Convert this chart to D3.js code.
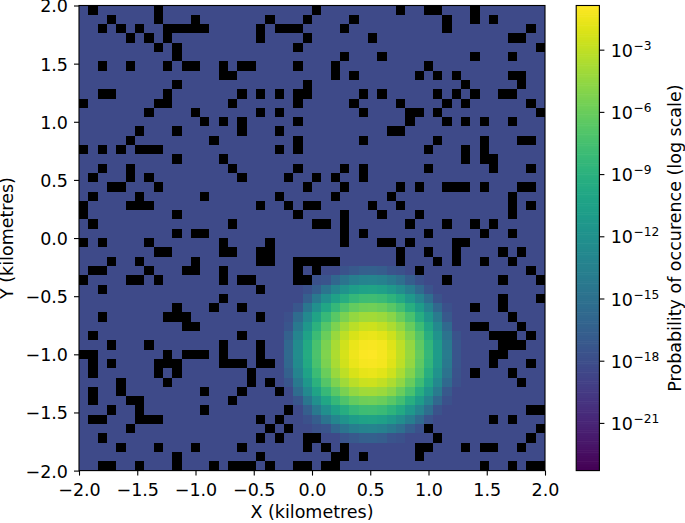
<!DOCTYPE html>
<html>
<head>
<meta charset="utf-8">
<script src="https://cdnjs.cloudflare.com/ajax/libs/d3/7.8.5/d3.min.js"></script>
<style>
html,body{margin:0;padding:0;background:#fff}
svg{display:block}
text{font-family:"DejaVu Sans",sans-serif;fill:#000}
</style>
</head>
<body>
<div id="chart"></div>
<script>
// Data
const xTicks = [-2, -1.5, -1, -0.5, 0, 0.5, 1, 1.5, 2];
const yTicks = [-2, -1.5, -1, -0.5, 0, 0.5, 1, 1.5, 2];
const colorTicks = [-3, -6, -9, -12, -15, -18, -21];
const colorDomain = [-23.3, -0.87];
const binCount = 50;
const backgroundLog = -18.25;
const xLabel = "X (kilometres)";
const yLabel = "Y (kilometres)";
const colorLabel = "Probability of occurence (log scale)";

// Empty bins (drawn black): column indices, one list per row, top row first
const emptyBins = [
 [1,8,25,34,37,38,42],
 [3,8,12,20,24,29,39,42,44],
 [2,4,6,9,10,11,12,13,19,21,22,23,28,39,48],
 [5,7,9,19,24,31,46,47],
 [8,10,23,49],
 [10,28,32,42,46],
 [2,5,9,11,12,15,17,18,23,27,37],
 [15,16,27,29,36,38,40,46,47],
 [10,24,41,47],
 [2,3,9,17,19,21,23,24,30,32,38,40,42,45,46],
 [0,8,9,16,23,29,34,39,41,48],
 [7,12,19,21,30,35,36,38,49],
 [13,15,17,23,35,39,41,43,46],
 [6,10,17,21,33,34],
 [5,14,23,30,38,43,47,48],
 [0,2,4,6,7,8,21,23,37,41,43],
 [10,15,41,43,44],
 [2,5,16,23,28,30,37,44,48],
 [1,5,7,17,22,25,27,30],
 [3,4,8,24,28,34,36,39,40,41,43,47,48],
 [1,6,13,21,27,33,46],
 [0,5,6,7,19,22,24,25,31,34,46,48],
 [0,10,23,28,32,36,46],
 [1,16,25,26,28,35,39,42,44],
 [10,12,13,28,30,37,43,46],
 [0,2,7,15,20,28,32,33,35,40,41],
 [8,9,15,16,19,20,34,37,40,45,47],
 [3,6,12,19,20,23,24,25,26,27,34,38,40,43,46],
 [1,2,7,11,12,15,23,25,36,48],
 [0,5,6,8,15,17,18,23,24,39,45,49],
 [2,19],
 [15,45,49],
 [10,14,17,42,45],
 [2,9,10,11,19,46],
 [11,12,42,43,47],
 [1,17,44,45,46,48],
 [3,7,15,19,45,46,47],
 [0,1,9,11,12,13,15,19,44,45],
 [1,3,8,9,10,15,16,17,19,20,44,48],
 [1,8,10,18,42,46],
 [4,9,18,20,47],
 [1,4,13,17,21],
 [1,5,6,16],
 [3,6,13,22,48,49],
 [1,2,6,7,8,19,21,44,46],
 [5,20,22,37,49],
 [2,19,21,24,25,38,48],
 [4,8,12,17,24,26,28,36,37,41,43,44,47],
 [10,19,27,28,30,36],
 [2,3,6,10,14,16,17,18,20,23,24,26,27,43,46,48,49]
];

// Bright patch: log10 probability for columns 22..40, rows 28..46 (null = background)
const patchFirstCol = 22;
const patchFirstRow = 28;
const n = null;
const patchLog = [
 [n,n,n,n,n,n,-17.6,-17.1,-16.6,-16.5,-16.8,-17.5,-17.7,n,n,n,n,n,n],
 [n,n,n,-17.7,-17.5,-15.9,-14.7,-13.8,-13.3,-13.2,-13.5,-14.2,-15.2,-16.7,-17.7,n,n,n,n],
 [n,n,-17.7,-16.7,-14.7,-13.0,-11.8,-10.9,-10.4,-10.3,-10.6,-11.3,-12.4,-13.8,-15.6,-17.5,n,n,n],
 [n,n,-16.6,-14.2,-12.2,-10.5,-9.3,-8.4,-7.9,-7.8,-8.1,-8.8,-9.8,-11.3,-13.1,-15.3,-17.6,n,n],
 [n,-17.3,-14.5,-12.1,-10.0,-8.4,-7.1,-6.3,-5.8,-5.7,-6.0,-6.7,-7.7,-9.2,-11.0,-13.2,-15.8,-17.7,n],
 [-17.8,-15.5,-12.7,-10.3,-8.3,-6.7,-5.4,-4.5,-4.1,-4.0,-4.2,-4.9,-6.0,-7.4,-9.3,-11.5,-14.1,-17.1,n],
 [-17.4,-14.2,-11.4,-9.0,-6.9,-5.3,-4.1,-3.2,-2.7,-2.6,-2.9,-3.6,-4.6,-6.1,-7.9,-10.1,-12.7,-15.7,n],
 [-16.4,-13.2,-10.4,-8.0,-6.0,-4.3,-3.1,-2.2,-1.7,-1.6,-1.9,-2.6,-3.7,-5.1,-6.9,-9.2,-11.8,-14.8,-17.6],
 [-15.8,-12.6,-9.8,-7.4,-5.4,-3.8,-2.5,-1.6,-1.2,-1.1,-1.3,-2.0,-3.1,-4.5,-6.4,-8.6,-11.2,-14.2,-17.4],
 [-15.6,-12.4,-9.6,-7.2,-5.2,-3.6,-2.3,-1.4,-1.0,-0.9,-1.2,-1.8,-2.9,-4.3,-6.2,-8.4,-11.0,-14.0,-17.4],
 [-15.8,-12.6,-9.8,-7.4,-5.4,-3.8,-2.5,-1.6,-1.2,-1.1,-1.3,-2.0,-3.1,-4.5,-6.4,-8.6,-11.2,-14.2,-17.4],
 [-16.4,-13.2,-10.4,-8.0,-6.0,-4.3,-3.1,-2.2,-1.7,-1.6,-1.9,-2.6,-3.7,-5.1,-6.9,-9.2,-11.8,-14.8,-17.6],
 [-17.4,-14.2,-11.4,-9.0,-6.9,-5.3,-4.1,-3.2,-2.7,-2.6,-2.9,-3.6,-4.6,-6.1,-7.9,-10.1,-12.7,-15.7,-17.7],
 [n,-15.5,-12.7,-10.3,-8.3,-6.7,-5.4,-4.5,-4.1,-4.0,-4.2,-4.9,-6.0,-7.4,-9.3,-11.5,-14.1,-17.1,n],
 [n,-17.3,-14.5,-12.1,-10.0,-8.4,-7.1,-6.3,-5.8,-5.7,-6.0,-6.7,-7.7,-9.2,-11.0,-13.2,-15.8,-17.7,n],
 [n,n,-16.6,-14.2,-12.2,-10.5,-9.3,-8.4,-7.9,-7.8,-8.1,-8.8,-9.8,-11.3,-13.1,-15.3,-17.6,n,n],
 [n,n,-17.7,-16.7,-14.7,-13.0,-11.8,-10.9,-10.4,-10.3,-10.6,-11.3,-12.4,-13.8,-15.6,-17.5,n,n,n],
 [n,n,n,-17.7,-17.5,-15.9,-14.7,-13.8,-13.3,-13.2,-13.5,-14.2,-15.2,-16.7,-17.7,n,n,n,n],
 [n,n,n,n,n,n,-17.6,-17.1,-16.6,-16.5,-16.8,-17.5,-17.7,n,n,n,n,n,n]
];

// Layout
const W = 685, H = 523;
const plot = {left: 79, right: 545, top: 5.5, bottom: 470.6};
const bar = {left: 576.2, right: 599.4};
const fontSize = 17.5;
const supSize = 12.25;

const svg = d3.select("#chart").append("svg").attr("width", W).attr("height", H).attr("viewBox", `0 0 ${W} ${H}`);

const x = d3.scaleLinear().domain([-2, 2]).range([plot.left, plot.right]);
const y = d3.scaleLinear().domain([-2, 2]).range([plot.bottom, plot.top]);
const colBand = d3.scaleBand().domain(d3.range(binCount)).range([plot.left, plot.right]).paddingInner(0).paddingOuter(0);
const rowBand = d3.scaleBand().domain(d3.range(binCount)).range([plot.top, plot.bottom]).paddingInner(0).paddingOuter(0);
const color = d3.scaleSequential(d3.interpolateViridis).domain(colorDomain);

// Heat map cells
const cells = [];
d3.range(binCount).forEach(r => d3.range(binCount).forEach(c => {
  const empty = emptyBins[r].includes(c);
  const pr = patchLog[r - patchFirstRow];
  const pv = pr ? pr[c - patchFirstCol] : undefined;
  cells.push({r, c, empty, value: (pv === undefined || pv === null) ? backgroundLog : pv});
}));

svg.append("g").selectAll("rect").data(cells).join("rect")
  .attr("x", d => colBand(d.c))
  .attr("y", d => rowBand(d.r))
  .attr("width", colBand.bandwidth())
  .attr("height", rowBand.bandwidth())
  .attr("fill", d => d.empty ? "#000" : color(d.value))
  .attr("shape-rendering", "crispEdges");

// Axes
const minus = s => String(s).replace("-", "\u2212");
const fmt = d => minus(d3.format(".1f")(d));

const styleAxis = g => {
  g.select(".domain").remove();
  g.selectAll("line").attr("stroke", "#000").attr("stroke-width", 1.1);
  g.selectAll("text").attr("font-size", fontSize).attr("fill", "#000");
};

svg.append("g").attr("transform", `translate(0,${plot.bottom})`)
  .call(d3.axisBottom(x).tickValues(xTicks).tickFormat(fmt).tickSize(5).tickPadding(8.4))
  .call(styleAxis);
svg.append("g").attr("transform", `translate(${plot.left},0)`)
  .call(d3.axisLeft(y).tickValues(yTicks).tickFormat(fmt).tickSize(5).tickPadding(6))
  .call(styleAxis)
  .call(g => g.selectAll("text").attr("dy", "0.37em"));

svg.append("rect").attr("x", plot.left).attr("y", plot.top)
  .attr("width", plot.right - plot.left).attr("height", plot.bottom - plot.top)
  .attr("fill", "none").attr("stroke", "#000").attr("stroke-width", 1.1);

svg.append("text").attr("x", (plot.left + plot.right) / 2).attr("y", 518)
  .attr("text-anchor", "middle").attr("font-size", fontSize).text(xLabel);
svg.append("text").attr("transform", `translate(13.2,${(plot.top + plot.bottom) / 2}) rotate(-90)`)
  .attr("text-anchor", "middle").attr("font-size", fontSize).text(yLabel);

// Colour bar
const cbY = d3.scaleLinear().domain(colorDomain).range([plot.bottom, plot.top]);
const steps = d3.range(256);
const stepValue = i => colorDomain[0] + (colorDomain[1] - colorDomain[0]) * (i + 0.5) / 256;
const stepH = (plot.bottom - plot.top) / 256;
svg.append("g").selectAll("rect").data(steps).join("rect")
  .attr("x", bar.left).attr("width", bar.right - bar.left)
  .attr("y", i => cbY(stepValue(i)) - stepH / 2 - 0.3)
  .attr("height", stepH + 0.6)
  .attr("fill", i => color(stepValue(i)));
svg.append("rect").attr("x", bar.left).attr("y", plot.top)
  .attr("width", bar.right - bar.left).attr("height", plot.bottom - plot.top)
  .attr("fill", "none").attr("stroke", "#000").attr("stroke-width", 1.1);

const cbAxis = svg.append("g").attr("transform", `translate(${bar.right},0)`)
  .call(d3.axisRight(cbY).tickValues(colorTicks).tickSize(5).tickPadding(4.9).tickFormat(""));
cbAxis.select(".domain").remove();
cbAxis.selectAll("line").attr("stroke", "#000").attr("stroke-width", 1.1);
cbAxis.selectAll("g.tick text").each(function(d) {
  const t = d3.select(this).attr("x", 11.3).attr("dy", null).attr("y", 6.6).attr("font-size", fontSize).attr("fill", "#000");
  t.append("tspan").text("10");
  t.append("tspan").attr("dx", 0.5).attr("dy", -6.9).attr("font-size", supSize).text(minus(d));
});

svg.append("text").attr("transform", `translate(680.7,${(plot.top + plot.bottom) / 2}) rotate(-90)`)
  .attr("text-anchor", "middle").attr("font-size", fontSize).text(colorLabel);
</script>
</body>
</html>
